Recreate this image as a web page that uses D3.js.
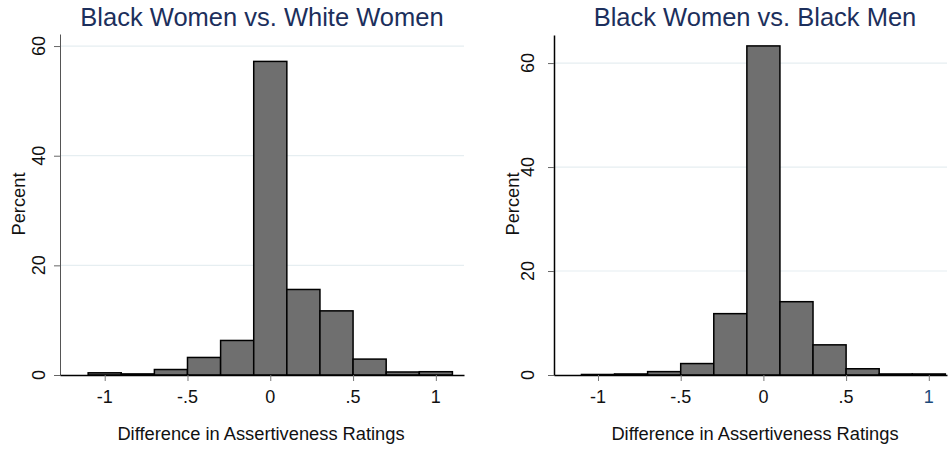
<!DOCTYPE html>
<html>
<head>
<meta charset="utf-8">
<script src="https://cdn.jsdelivr.net/npm/d3@7"></script>
<style>
  body { margin: 0; background: #fff; }
  text { font-family: "Liberation Sans", Arial, sans-serif; }
</style>
</head>
<body>
<div id="chart"></div>
<script>
// histogram bins (centres), width .2
var binCenters = [-1, -0.8, -0.6, -0.4, -0.2, 0, 0.2, 0.4, 0.6, 0.8, 1];
var binWidth = 0.2;
var pctWhiteWomen = [0.4, 0.2, 1.0, 3.2, 6.3, 57.2, 15.6, 11.7, 2.9, 0.55, 0.6];
var pctBlackMen = [0.1, 0.2, 0.65, 2.2, 11.8, 63.3, 14.1, 5.8, 1.2, 0.2, 0.2];
var xTicks = [-1, -0.5, 0, 0.5, 1];
var xTickLabels = ["-1", "-.5", "0", ".5", "1"];
var yTicks = [0, 20, 40, 60];
var titles = ["Black Women vs. White Women", "Black Women vs. Black Men"];
var xTitle = "Difference in Assertiveness Ratings";
var yTitle = "Percent";

var W = 948, H = 450;
var svg = d3.select("#chart").append("svg")
  .attr("width", W).attr("height", H);

var panels = [
  {vals: pctWhiteWomen, title: titles[0], xd: [-1.27, 1.17], xr: [60, 464], yd: [0, 62.2], yr: [375, 34],
   titleX: 262, yLabX: 25, tickLabX: 45, xTitleX: 261, yAxisColor: "#555", yAxisW: 1},
  {vals: pctBlackMen, title: titles[1], xd: [-1.266, 1.11], xr: [554, 947], yd: [0, 65.4], yr: [375, 35],
   titleX: 755, yLabX: 519, tickLabX: 534, xTitleX: 755, yAxisColor: "#000", yAxisW: 1.5}
];

panels.forEach(function(p, pi) {
  var x = d3.scaleLinear().domain(p.xd).range(p.xr);
  var y = d3.scaleLinear().domain(p.yd).range(p.yr);
  var g = svg.append("g");

  // gridlines
  g.selectAll(".grid").data(yTicks.filter(function(d){ return d > 0; })).enter()
    .append("line")
      .attr("x1", p.xr[0]).attr("x2", p.xr[1])
      .attr("y1", function(d){ return y(d); }).attr("y2", function(d){ return y(d); })
      .attr("stroke", "#e6eef1").attr("stroke-width", 1.2);

  // bars
  g.selectAll(".bar").data(p.vals).enter()
    .append("rect")
      .attr("x", function(d, i){ return x(binCenters[i] - binWidth/2); })
      .attr("width", function(d, i){ return x(binCenters[i] + binWidth/2) - x(binCenters[i] - binWidth/2); })
      .attr("y", function(d){ return y(d); })
      .attr("height", function(d){ return y(0) - y(d); })
      .attr("fill", "#6f6f6f")
      .attr("stroke", "#000")
      .attr("stroke-width", 1.5);

  // y axis
  var ya = g.append("g")
    .attr("transform", "translate(" + p.xr[0] + ",0)")
    .call(d3.axisLeft(y).tickValues(yTicks).tickSizeInner(6).tickSizeOuter(0).tickFormat(""));
  ya.select(".domain").attr("stroke", p.yAxisColor).attr("stroke-width", p.yAxisW);
  ya.selectAll(".tick line").attr("stroke", "#666");

  g.selectAll(".ylab").data(yTicks).enter()
    .append("text")
      .attr("transform", function(d){ return "translate(" + p.tickLabX + "," + y(d) + ") rotate(-90)"; })
      .attr("text-anchor", "middle")
      .attr("font-size", 18)
      .attr("fill", "#111")
      .text(function(d){ return d; });

  // x axis
  var xa = g.append("g")
    .attr("transform", "translate(0," + y(0) + ")")
    .call(d3.axisBottom(x).tickValues(xTicks).tickSizeInner(6).tickSizeOuter(0).tickFormat(""));
  xa.select(".domain").attr("stroke", "#000").attr("stroke-width", 1.5);
  xa.selectAll(".tick line").attr("stroke", "#777");

  g.selectAll(".xlab").data(xTicks).enter()
    .append("text")
      .attr("x", function(d){ return x(d); })
      .attr("y", 403)
      .attr("text-anchor", "middle")
      .attr("font-size", 18)
      .attr("fill", function(d, i){ return (pi == 1 && i == xTicks.length - 1) ? "#1d4a7a" : "#111"; })
      .text(function(d, i){ return xTickLabels[i]; });

  // titles
  g.append("text")
    .attr("x", p.titleX).attr("y", 26)
    .attr("text-anchor", "middle")
    .attr("font-size", 25.5)
    .attr("fill", "#1c2f5c")
    .text(p.title);

  g.append("text")
    .attr("x", p.xTitleX)
    .attr("y", 440)
    .attr("text-anchor", "middle")
    .attr("font-size", 18.3)
    .attr("fill", "#111")
    .text(xTitle);

  g.append("text")
    .attr("transform", "translate(" + p.yLabX + ",204) rotate(-90)")
    .attr("text-anchor", "middle")
    .attr("font-size", 18.3)
    .attr("fill", "#111")
    .text(yTitle);
});
</script>
</body>
</html>
